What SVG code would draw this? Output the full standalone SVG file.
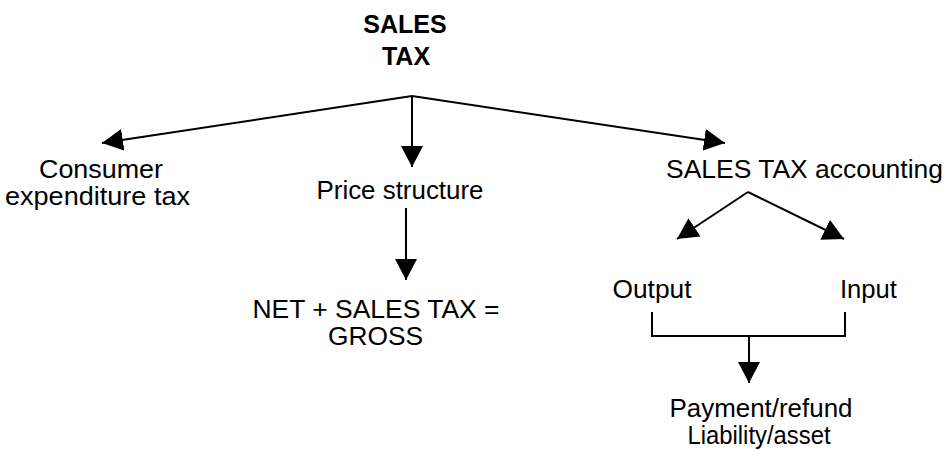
<svg xmlns="http://www.w3.org/2000/svg" width="946" height="450" viewBox="0 0 946 450">
<defs>
<marker id="ah" viewBox="0 0 21 22" refX="21" refY="11" markerWidth="21" markerHeight="22" markerUnits="userSpaceOnUse" orient="auto">
<path d="M0,0 L21,11 L0,22 z" fill="#000"/>
</marker>
<style>
text{font-family:"Liberation Sans",Arial,sans-serif;font-size:25px;fill:#000;text-anchor:middle}
.t{font-weight:bold;font-size:25px}
.c{stroke:#000;stroke-width:2;fill:none}
.a{marker-end:url(#ah)}
</style>
</defs>
<rect width="946" height="450" fill="#fff"/>
<g id="connectors">
<line class="c a" x1="412" y1="96" x2="102" y2="143"/>
<line class="c a" x1="412" y1="96" x2="412" y2="167"/>
<line class="c a" x1="412" y1="96" x2="725" y2="143"/>
<line class="c a" x1="406" y1="208" x2="406" y2="280"/>
<line class="c a" x1="748" y1="192" x2="677" y2="239"/>
<line class="c a" x1="748" y1="192" x2="844" y2="239"/>
<path class="c" d="M652,312 V336 H845 V312"/>
<line class="c a" x1="749" y1="336" x2="749" y2="383"/>
</g>
<g id="sales-tax">
<text class="t" x="405" y="33">SALES</text>
<text class="t" x="406" y="65">TAX</text>
</g>
<g id="consumer">
<text x="101" y="178" textLength="124" lengthAdjust="spacingAndGlyphs">Consumer</text>
<text x="97.5" y="205" textLength="185" lengthAdjust="spacingAndGlyphs">expenditure tax</text>
</g>
<g id="price-structure">
<text x="400" y="199" textLength="167" lengthAdjust="spacingAndGlyphs">Price structure</text>
</g>
<g id="net-gross">
<text x="376" y="318" textLength="247" lengthAdjust="spacingAndGlyphs">NET + SALES TAX =</text>
<text x="375.5" y="345" textLength="95" lengthAdjust="spacingAndGlyphs">GROSS</text>
</g>
<g id="accounting">
<text x="804.5" y="178" textLength="277" lengthAdjust="spacingAndGlyphs">SALES TAX accounting</text>
</g>
<g id="output">
<text x="652" y="298" textLength="79" lengthAdjust="spacingAndGlyphs">Output</text>
</g>
<g id="input">
<text x="868.5" y="298" textLength="57" lengthAdjust="spacingAndGlyphs">Input</text>
</g>
<g id="payment">
<text x="761" y="417" textLength="183" lengthAdjust="spacingAndGlyphs">Payment/refund</text>
<text x="759" y="444" textLength="143" lengthAdjust="spacingAndGlyphs">Liability/asset</text>
</g>
</svg>
